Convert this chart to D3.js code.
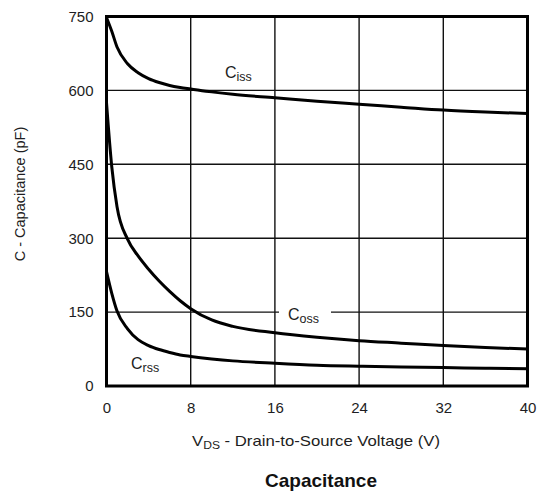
<!DOCTYPE html>
<html>
<head>
<meta charset="utf-8">
<script src="https://cdn.jsdelivr.net/npm/d3@7"></script>
<style>
  html, body { margin: 0; padding: 0; background: #fff; }
  svg { display: block; font-family: "Liberation Sans", Arial, sans-serif; }
</style>
</head>
<body>
<svg id="chart" width="545" height="493"></svg>
<script>
// Drain-source voltage samples (V)
const vds = [0, 0.5, 1, 2, 3, 4, 5, 6, 7, 8, 10, 12, 16, 20, 24, 28, 32, 36, 40];
// Input capacitance (pF)
const ciss = [748, 720, 688, 654, 636, 624, 616, 610, 606, 603, 597, 592, 585, 578, 572, 566, 560, 556, 553];
// Output capacitance (pF)
const coss = [575, 445, 364, 298, 264, 237, 213, 192, 173, 157, 134, 121, 108, 99, 92, 87, 82, 78, 75];
// Reverse transfer capacitance (pF)
const crss = [232, 188, 152, 116, 94, 82, 74, 68, 63, 60, 55, 51, 46, 42, 40, 38.5, 37.5, 36, 35];

const xTicks = [0, 8, 16, 24, 32, 40];
const yTicks = [0, 150, 300, 450, 600, 750];

const svg = d3.select("#chart");
const m = { left: 106.5, right: 527.5, top: 16.5, bottom: 386 };

const x = d3.scaleLinear().domain([0, 40]).range([m.left, m.right]);
const y = d3.scaleLinear().domain([0, 750]).range([m.bottom, m.top]);

const ink = "#1d1d22";

// Grid lines
const grid = svg.append("g").attr("stroke", "#111").attr("stroke-width", 1.4);
xTicks.slice(1, -1).forEach(t => {
  grid.append("line").attr("x1", x(t)).attr("x2", x(t)).attr("y1", y(0)).attr("y2", y(750));
});
// the 150 pF line leaves a gap for the Coss label
const gapStart = 279, gapEnd = 331;
yTicks.slice(1, -1).forEach(t => {
  if (t === 150) {
    grid.append("line").attr("x1", x(0)).attr("x2", gapStart).attr("y1", y(t)).attr("y2", y(t));
    grid.append("line").attr("x1", gapEnd).attr("x2", x(40)).attr("y1", y(t)).attr("y2", y(t));
  } else {
    grid.append("line").attr("x1", x(0)).attr("x2", x(40)).attr("y1", y(t)).attr("y2", y(t));
  }
});

// Curves
const line = d3.line().x((d, i) => x(vds[i])).y(d => y(d)).curve(d3.curveMonotoneX);
[ciss, coss, crss].forEach(s => {
  svg.append("path").attr("d", line(s)).attr("fill", "none")
    .attr("stroke", "#000").attr("stroke-width", 3).attr("stroke-linejoin", "round");
});

// Frame
svg.append("rect").attr("x", x(0)).attr("y", y(750))
  .attr("width", x(40) - x(0)).attr("height", y(0) - y(750))
  .attr("fill", "none").attr("stroke", "#000").attr("stroke-width", 3);

// Axes (labels only, ticks drawn by the grid)
const xAxis = d3.axisBottom(x).tickValues(xTicks).tickSize(0).tickPadding(16);
const gx = svg.append("g").attr("transform", `translate(0,${y(0)})`).call(xAxis);
gx.select(".domain").remove();
gx.selectAll("text").attr("font-size", 15).attr("fill", ink).attr("font-family", "Liberation Sans, Arial, sans-serif");

const yAxis = d3.axisLeft(y).tickValues(yTicks).tickSize(0).tickPadding(13);
const gy = svg.append("g").attr("transform", `translate(${x(0)},0)`).call(yAxis);
gy.select(".domain").remove();
gy.selectAll("text").attr("font-size", 15).attr("fill", ink).attr("font-family", "Liberation Sans, Arial, sans-serif");

// Series labels with subscripts
function subLabel(px, py, main, sub) {
  const t = svg.append("text").attr("x", px).attr("y", py).attr("fill", ink).attr("font-size", 16);
  t.append("tspan").text(main);
  t.append("tspan").attr("font-size", 12.5).attr("dy", 3).text(sub);
  return t;
}
subLabel(225, 78, "C", "iss");
subLabel(288, 320, "C", "oss");
subLabel(131, 369, "C", "rss");

// Axis titles
const xt = svg.append("text").attr("x", 316).attr("y", 446).attr("text-anchor", "middle")
  .attr("fill", ink).attr("font-size", 14.5)
  .attr("textLength", 248).attr("lengthAdjust", "spacingAndGlyphs");
xt.append("tspan").text("V");
xt.append("tspan").attr("font-size", 10.5).attr("dy", 3).text("DS");
xt.append("tspan").attr("dy", -3).text(" - Drain-to-Source Voltage (V)");

svg.append("text").attr("transform", `translate(25,194) rotate(-90)`)
  .attr("text-anchor", "middle").attr("fill", ink).attr("font-size", 14.5)
  .text("C - Capacitance (pF)");

svg.append("text").attr("x", 321).attr("y", 487).attr("text-anchor", "middle")
  .attr("fill", "#111").attr("font-size", 19).attr("font-weight", "bold")
  .text("Capacitance");
</script>
</body>
</html>
